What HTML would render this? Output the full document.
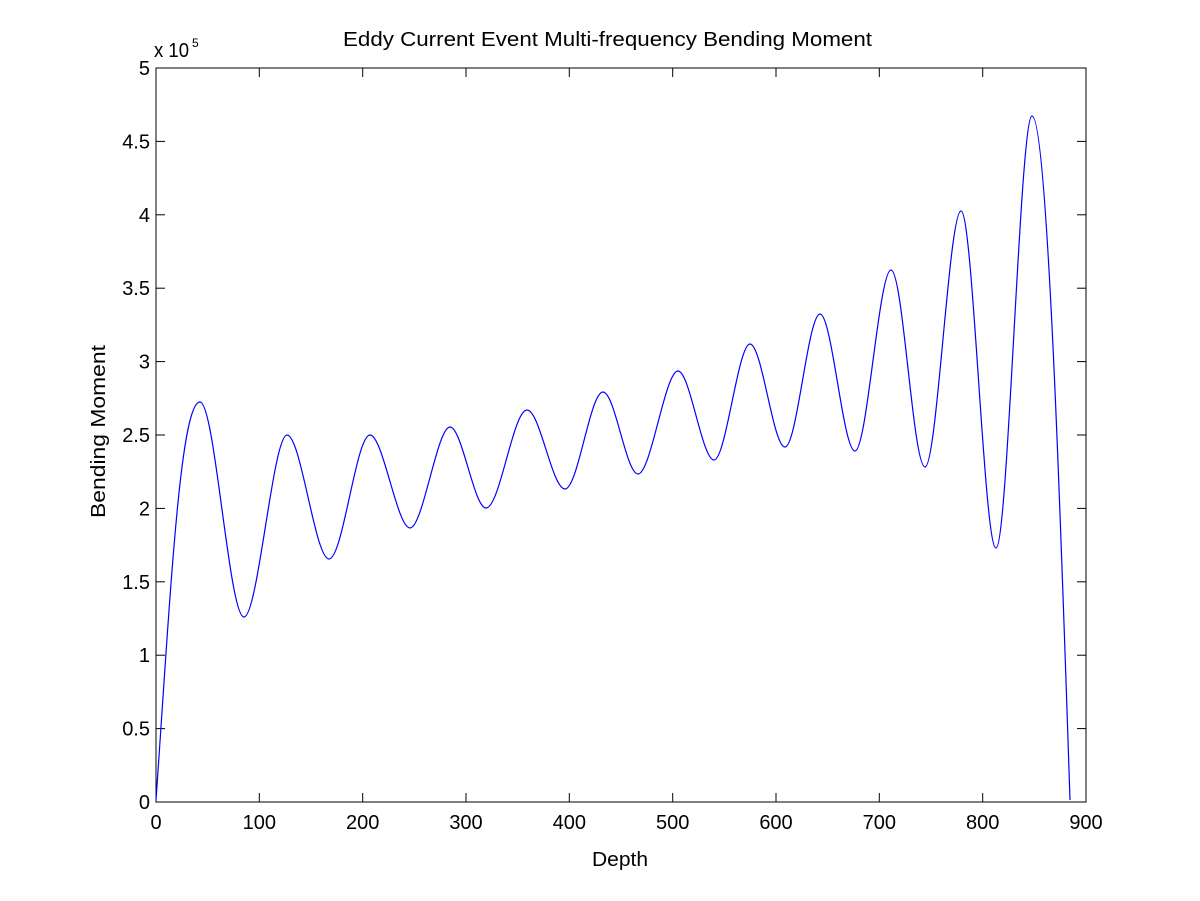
<!DOCTYPE html>
<html><head><meta charset="utf-8"><style>
html,body{margin:0;padding:0;background:#fff;}
svg{display:block;}
text{font-family:"Liberation Sans",sans-serif;font-size:20px;fill:#000;}
</style></head><body>
<svg width="1200" height="901" viewBox="0 0 1200 901" xmlns="http://www.w3.org/2000/svg">
<rect x="0" y="0" width="1200" height="901" fill="#fff"/>
<rect x="156" y="68" width="930" height="734" fill="#fff" stroke="#000" stroke-width="1"/>
<g stroke="#000" stroke-width="1">
<line x1="156" y1="802" x2="156" y2="793"/><line x1="156" y1="68" x2="156" y2="77"/>
<line x1="259.3" y1="802" x2="259.3" y2="793"/><line x1="259.3" y1="68" x2="259.3" y2="77"/>
<line x1="362.7" y1="802" x2="362.7" y2="793"/><line x1="362.7" y1="68" x2="362.7" y2="77"/>
<line x1="466" y1="802" x2="466" y2="793"/><line x1="466" y1="68" x2="466" y2="77"/>
<line x1="569.3" y1="802" x2="569.3" y2="793"/><line x1="569.3" y1="68" x2="569.3" y2="77"/>
<line x1="672.7" y1="802" x2="672.7" y2="793"/><line x1="672.7" y1="68" x2="672.7" y2="77"/>
<line x1="776" y1="802" x2="776" y2="793"/><line x1="776" y1="68" x2="776" y2="77"/>
<line x1="879.3" y1="802" x2="879.3" y2="793"/><line x1="879.3" y1="68" x2="879.3" y2="77"/>
<line x1="982.7" y1="802" x2="982.7" y2="793"/><line x1="982.7" y1="68" x2="982.7" y2="77"/>
<line x1="156" y1="728.6" x2="165" y2="728.6"/><line x1="1086" y1="728.6" x2="1077" y2="728.6"/>
<line x1="156" y1="655.2" x2="165" y2="655.2"/><line x1="1086" y1="655.2" x2="1077" y2="655.2"/>
<line x1="156" y1="581.8" x2="165" y2="581.8"/><line x1="1086" y1="581.8" x2="1077" y2="581.8"/>
<line x1="156" y1="508.4" x2="165" y2="508.4"/><line x1="1086" y1="508.4" x2="1077" y2="508.4"/>
<line x1="156" y1="435" x2="165" y2="435"/><line x1="1086" y1="435" x2="1077" y2="435"/>
<line x1="156" y1="361.6" x2="165" y2="361.6"/><line x1="1086" y1="361.6" x2="1077" y2="361.6"/>
<line x1="156" y1="288.2" x2="165" y2="288.2"/><line x1="1086" y1="288.2" x2="1077" y2="288.2"/>
<line x1="156" y1="214.8" x2="165" y2="214.8"/><line x1="1086" y1="214.8" x2="1077" y2="214.8"/>
<line x1="156" y1="141.4" x2="165" y2="141.4"/><line x1="1086" y1="141.4" x2="1077" y2="141.4"/>
</g>
<g text-anchor="middle">
<text x="156" y="829">0</text><text x="259.3" y="829">100</text><text x="362.7" y="829">200</text>
<text x="466" y="829">300</text><text x="569.3" y="829">400</text><text x="672.7" y="829">500</text>
<text x="776" y="829">600</text><text x="879.3" y="829">700</text><text x="982.7" y="829">800</text>
<text x="1086" y="829">900</text>
</g>
<g text-anchor="end">
<text x="150" y="809">0</text><text x="150" y="735.6">0.5</text><text x="150" y="662.2">1</text>
<text x="150" y="588.8">1.5</text><text x="150" y="515.4">2</text><text x="150" y="442">2.5</text>
<text x="150" y="368.6">3</text><text x="150" y="295.2">3.5</text><text x="150" y="221.8">4</text>
<text x="150" y="148.4">4.5</text><text x="150" y="75">5</text>
</g>
<text x="154" y="57" textLength="35" lengthAdjust="spacingAndGlyphs">x 10</text><text x="192" y="47" style="font-size:12px">5</text>
<text x="343" y="46" textLength="529" lengthAdjust="spacingAndGlyphs">Eddy Current Event Multi-frequency Bending Moment</text>
<text x="592" y="866" textLength="56" lengthAdjust="spacingAndGlyphs">Depth</text>
<text transform="translate(105,518) rotate(-90)" textLength="173" lengthAdjust="spacingAndGlyphs">Bending Moment</text>
<path fill="none" stroke="#0000ff" stroke-width="1.2" d="M156,800 C170,600 180,402 200,402
C215,402 229,617 244,617 C258,617 273,435 287,435 C301,435 315,559 329,559
C343,559 356,435 370,435 C383,435 397,528 410,528 C423,528 437,427 450,427
C462,427 474,508 486,508 C500,508 513,410 527,410 C540,410 552,489 565,489
C578,489 590,392 603,392 C615,392 626,474 638,474 C651,474 665,371 678,371
C690,371 702,460 714,460 C726,460 738,344 750,344 C762,344 773,447 785,447
C797,447 808,314 820,314 C832,314 843,451 855,451 C867,451 879,270 891,270
C903,270 913,467 925,467 C937,467 949,211 961,211 C973,211 984,548 996,548
C1008,548 1020,116 1032,116 C1048,116 1062,560 1070,800"/>
</svg>
</body></html>
